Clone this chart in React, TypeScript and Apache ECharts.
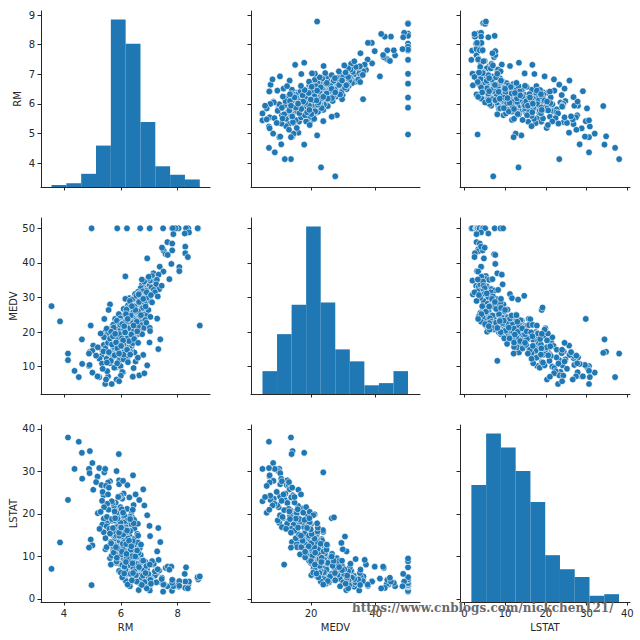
import { useEffect, useRef } from 'react';
import * as echarts from 'echarts';

// ---- data (one entry per house) ----
const RM = [
  7.489, 7.802, 8.034, 7.016, 7.875, 7.923, 4.970, 8.375, 7.929, 6.683,
  7.831, 8.725, 8.704, 8.297, 5.875, 6.216, 8.40, 8.25, 7.85, 7.64,
  7.81, 7.49, 7.52, 7.58, 7.81, 8.27, 8.27, 8.36, 6.93, 7.65,
  7.45, 7.78, 8.06, 8.06, 7.37, 7.50, 7.15, 7.33, 6.16, 7.10,
  7.19, 7.00, 7.02, 6.95, 7.27, 7.71, 7.20, 6.85, 7.08, 6.78,
  7.25, 6.98, 7.35, 6.90, 6.75, 6.82, 7.44, 6.70, 7.16, 6.60,
  6.43, 6.80, 6.58, 6.97, 6.70, 6.45, 6.88, 6.50, 6.30, 6.40,
  6.55, 7.05, 6.72, 6.62, 6.90, 7.20, 6.35, 6.52, 7.30, 6.78,
  6.25, 5.62, 6.16, 6.65, 7.10, 3.56, 3.86, 5.42, 5.57, 6.40,
  6.58, 6.42, 6.31, 6.17, 6.21, 5.97, 6.06, 6.49, 6.73, 6.38,
  6.84, 6.27, 6.65, 6.12, 6.45, 6.92, 6.36, 6.55, 5.89, 6.24,
  6.78, 6.03, 6.61, 6.14, 6.48, 5.80, 6.33, 6.70, 6.97, 6.22,
  6.40, 5.93, 6.68, 6.10, 6.52, 7.04, 6.28, 6.86, 5.98, 6.44,
  8.78, 4.94, 6.01, 6.42, 5.95, 6.10, 5.83, 5.94, 5.46, 5.73,
  5.97, 6.49, 6.67, 5.93, 5.84, 5.85, 6.07, 5.68, 5.79, 5.60,
  5.96, 6.23, 6.12, 6.33, 6.26, 6.19, 6.38, 6.05, 6.55, 6.31,
  6.16, 6.00, 5.88, 6.44, 6.22, 5.71, 6.09, 6.35, 6.62, 5.99,
  6.14, 6.28, 5.90, 6.48, 6.04, 6.71, 5.77, 6.20, 6.41, 5.85,
  6.13, 6.57, 6.02, 6.37, 5.65, 6.25, 6.82, 5.52, 6.18, 6.46,
  5.81, 6.07, 6.30, 6.90, 5.40, 6.11, 6.53, 5.91, 6.34, 6.75,
  6.00, 5.74, 6.24, 6.60, 6.06, 5.50, 6.39, 5.96, 6.15, 7.02,
  6.27, 7.28, 7.03, 4.63, 4.91, 5.93, 5.03, 7.32, 7.39, 7.01,
  5.00, 6.38, 5.85, 5.76, 5.82, 6.00, 6.05, 5.81, 5.92, 5.81,
  6.17, 6.38, 5.89, 6.48, 5.40, 6.31, 6.13, 5.35, 6.07, 6.13,
  5.85, 6.24, 5.73, 6.42, 6.02, 5.65, 6.19, 5.99, 6.33, 5.46,
  6.02, 5.89, 6.21, 5.76, 4.14, 4.88, 5.85, 4.90, 4.64, 5.94,
  5.94, 5.62, 6.23, 5.32, 6.79, 4.14, 5.57, 5.71, 5.91, 6.22,
  5.39, 5.94, 6.10, 6.30, 5.99, 6.52, 5.70, 6.10, 5.50, 6.25,
  5.99, 6.60, 5.77, 5.87, 5.65, 4.88, 6.93, 5.60, 4.52, 5.00,
  4.37, 5.24, 5.45, 5.18, 6.43, 6.08, 5.55, 5.48, 5.68, 6.05,
  6.45, 6.65, 5.52, 6.00, 6.83, 5.85, 5.94, 6.42,
  5.19, 5.25, 5.34, 5.41, 5.36, 5.55, 5.13, 5.51, 5.29, 5.58,
  5.62, 5.75, 5.69, 5.86, 5.78, 5.95, 5.91, 5.66, 5.83, 5.98,
  6.04, 6.18, 6.09, 6.26, 6.35, 6.12, 6.29, 6.20, 6.37, 6.03,
  6.43, 6.51, 6.58, 6.64, 6.47, 6.71, 6.56, 6.79, 6.61, 6.87,
  6.32, 6.18, 6.05, 6.63, 6.91, 6.24, 6.39, 6.12, 6.74, 7.06,
  6.15, 5.88, 6.22, 5.72, 6.45, 5.94, 6.08, 5.80, 6.33, 6.01,
];
const MEDV = [
  50, 50, 50, 50, 50, 50, 50, 50, 50, 50,
  50, 50, 50, 50, 50, 50, 48.8, 48.5, 48.3, 46.0,
  45.6, 43.9, 43.4, 42.5, 43.6, 44.7, 42.8, 41.7, 41.3, 42.3,
  44.4, 39.7, 38.8, 37.6, 38.9, 37.5, 37.0, 36.6, 36.1, 36.2,
  34.7, 33.4, 34.9, 35.4, 35.1, 35.3, 33.2, 32.5, 32.9, 33.1,
  33.8, 36.0, 32.4, 32.0, 33.8, 34.6, 33.4, 32.7, 32.2, 31.6,
  28.7, 30.8, 29.1, 31.1, 30.1, 29.6, 28.4, 31.0, 29.8, 29.4,
  30.5, 29.0, 28.0, 27.9, 29.9, 31.5, 28.2, 27.6, 30.3, 31.8,
  27.7, 28.0, 29.6, 31.2, 28.6, 27.5, 23.1, 23.8, 26.4, 27.1,
  24.0, 23.6, 24.4, 25.3, 24.7, 24.7, 23.4, 25.0, 26.6, 23.2,
  25.1, 26.2, 23.9, 24.1, 26.6, 24.8, 23.0, 25.8, 23.6, 24.3,
  27.0, 23.3, 26.0, 25.0, 27.4, 23.8, 25.5, 23.1, 26.4, 23.7,
  24.5, 25.2, 24.6, 26.7, 23.4, 24.4, 27.0, 23.5, 24.0, 25.9,
  21.9, 21.9, 22.9, 21.6, 20.4, 18.9, 19.9, 23.0, 20.2, 18.7,
  19.6, 18.6, 21.0, 18.9, 20.0, 21.0, 21.2, 19.3, 20.0, 19.4,
  22.0, 20.6, 19.2, 22.6, 21.7, 20.3, 19.8, 21.4, 22.2, 18.8,
  22.4, 19.1, 21.5, 20.8, 22.8, 21.8, 20.0, 21.1, 19.5, 22.3,
  18.6, 20.1, 19.0, 21.4, 20.5, 22.0, 20.6, 19.4, 22.9, 18.7,
  21.7, 20.3, 18.9, 19.9, 20.8, 22.1, 21.2, 19.6, 21.9, 19.2,
  22.5, 19.8, 20.9, 22.7, 18.9, 22.6, 20.1, 21.1, 18.5, 19.4,
  20.7, 22.2, 19.6, 21.6, 22.0, 21.0, 20.4, 18.6, 20.0, 21.2,
  23.0, 23.9, 20.3, 17.9, 14.3, 14.0, 16.1, 15.1, 17.9, 17.0,
  14.6, 15.0, 17.2, 16.0, 14.9, 15.2, 14.8, 14.5, 15.6, 16.6,
  17.8, 16.1, 17.4, 14.1, 16.3, 15.4, 16.7, 14.6, 14.5, 17.1,
  16.2, 18.4, 15.0, 16.8, 17.5, 14.1, 15.6, 18.0, 14.3, 15.3,
  16.6, 17.8, 18.2, 15.7, 13.8, 10.2, 9.9, 10.5, 10.8, 12.7,
  10.5, 11.0, 12.5, 13.1, 13.4, 11.9, 13.6, 12.7, 10.4, 13.1,
  14.4, 11.7, 12.1, 13.9, 10.0, 11.5, 13.1, 13.5, 12.3, 11.3,
  10.2, 12.6, 9.7, 11.0, 11.7, 13.8, 10.4, 13.9, 7.0, 8.3,
  8.8, 7.0, 5.0, 7.2, 7.2, 8.4, 7.2, 6.3, 5.0, 8.5,
  9.6, 7.5, 8.7, 7.4, 8.1, 6.3, 5.8, 7.1,
  15.6, 12.3, 10.9, 18.5, 9.4, 16.9, 13.2, 11.2, 19.6, 14.2,
  18.1, 21.3, 16.4, 23.3, 13.3, 19.4, 14.9, 20.1, 17.0, 22.1,
  18.2, 23.2, 16.3, 21.1, 24.8, 20.7, 17.4, 26.5, 19.3, 15.9,
  22.6, 26.4, 20.2, 28.7, 18.0, 24.9, 23.0, 29.6, 16.9, 27.4,
  29.0, 25.2, 22.3, 30.9, 31.5, 23.8, 27.5, 21.7, 35.2, 30.7,
  19.9, 15.3, 14.9, 18.8, 21.9, 13.8, 17.6, 19.5, 13.5, 16.0,
];
const LSTAT = [
  1.73, 1.92, 2.88, 2.96, 2.97, 3.16, 3.26, 3.32, 3.70, 3.73,
  4.45, 4.63, 5.12, 7.44, 8.88, 9.53, 4.1, 5.9, 3.0, 3.0,
  3.8, 3.4, 3.5, 7.3, 4.5, 4.1, 2.6, 2.5, 4.8, 7.6,
  5.0, 7.6, 4.2, 3.1, 4.1, 3.4, 8.1, 9.2, 4.6, 5.3,
  4.0, 2.9, 2.0, 5.1, 6.1, 6.9, 5.5, 6.4, 4.7, 3.5,
  3.9, 4.2, 6.7, 7.4, 9.4, 4.6, 4.7, 5.0, 8.3, 4.3,
  5.2, 4.3, 6.9, 5.0, 5.9, 7.8, 6.2, 11.2, 11.7, 13.2,
  14.7, 4.7, 7.1, 8.0, 3.9, 6.5, 5.7, 9.5, 7.0, 3.2,
  6.4, 9.6, 6.8, 5.5, 8.9, 7.1, 13.3, 29.8, 19.0, 19.2,
  5.0, 9.1, 7.5, 5.8, 7.4, 10.1, 12.0, 6.4, 4.8, 8.1,
  4.0, 6.0, 7.2, 9.3, 4.6, 6.9, 11.2, 8.4, 13.4, 10.7,
  5.5, 14.1, 9.8, 12.6, 7.0, 15.8, 3.9, 10.4, 5.9, 16.2,
  12.1, 8.5, 3.6, 7.8, 13.8, 4.5, 9.0, 8.8, 6.3, 5.3,
  5.3, 14.0, 12.4, 9.1, 8.3, 10.3, 8.5, 6.6, 11.7, 11.3,
  13.8, 12.8, 12.0, 9.7, 11.4, 8.8, 9.6, 10.2, 14.2, 16.2,
  13.5, 10.5, 15.0, 7.9, 11.0, 12.9, 13.6, 8.0, 9.9, 14.8,
  6.9, 16.9, 12.3, 7.2, 10.0, 15.1, 17.6, 5.9, 10.8, 11.9,
  13.1, 9.2, 18.4, 6.5, 14.4, 8.6, 12.7, 11.5, 8.4, 17.0,
  7.6, 11.4, 19.5, 16.3, 13.0, 12.5, 6.8, 17.9, 15.5, 14.1,
  10.6, 12.0, 13.9, 7.8, 15.7, 9.4, 5.6, 19.9, 17.4, 9.0,
  6.2, 11.8, 18.1, 13.3, 15.9, 12.2, 10.1, 14.6, 8.9, 8.1,
  13.0, 11.2, 14.8, 34.4, 34.8, 34.1, 25.7, 16.7, 13.4, 17.2,
  12.6, 20.5, 21.3, 21.9, 22.7, 18.7, 17.3, 19.9, 16.3, 14.8,
  16.9, 17.6, 18.1, 16.6, 18.9, 19.4, 18.3, 17.5, 13.0, 14.2,
  15.0, 12.8, 15.9, 13.6, 14.7, 13.4, 12.9, 15.6, 16.0, 14.3,
  10.5, 11.9, 9.8, 12.2, 38.0, 30.6, 30.1, 29.6, 28.3, 27.9,
  27.0, 27.7, 26.8, 26.8, 25.8, 23.3, 21.0, 22.6, 24.1, 21.2,
  24.4, 20.9, 24.8, 23.9, 21.6, 24.6, 18.4, 19.5, 17.1, 19.0,
  17.9, 17.7, 18.5, 16.9, 8.1, 12.1, 19.7, 16.5, 37.0, 32.0,
  30.6, 30.8, 30.6, 28.8, 29.1, 27.8, 27.4, 26.6, 23.0, 23.6,
  22.1, 23.3, 22.4, 24.3, 22.0, 20.3, 24.0, 21.0,
  20.2, 16.5, 23.1, 21.6, 25.2, 24.6, 27.5, 19.3, 20.5, 26.2,
  15.4, 10.9, 18.8, 9.7, 20.6, 14.9, 24.0, 13.1, 12.2, 16.8,
  11.1, 8.7, 15.2, 14.2, 11.6, 19.7, 13.7, 10.6, 12.4, 21.1,
  6.1, 10.0, 15.3, 7.5, 18.6, 12.8, 4.1, 9.0, 14.9, 6.1,
  3.0, 4.2, 5.1, 2.1, 2.5, 3.4, 4.4, 6.0, 3.3, 3.6,
  16.4, 18.9, 16.1, 16.7, 17.8, 15.6, 20.3, 19.0, 18.8, 16.8,
];

// ---- histogram bins (edges) and counts ----
const RM_EDGES = [3.561, 4.083, 4.605, 5.127, 5.649, 6.170, 6.692, 7.214, 7.736, 8.258, 8.780];
const RM_COUNTS = [2, 4, 14, 44, 178, 152, 69, 22, 13, 8];
const MEDV_EDGES = [5, 9.5, 14, 18.5, 23, 27.5, 32, 36.5, 41, 45.5, 50];
const MEDV_COUNTS = [21, 55, 82, 154, 84, 41, 30, 8, 10, 21];
const LSTAT_EDGES = [1.73, 5.354, 8.978, 12.602, 16.226, 19.85, 23.474, 27.098, 30.722, 34.346, 37.97];
const LSTAT_COUNTS = [75, 108, 99, 84, 64, 30, 21, 16, 4, 5];

// ---- axes ----
const VARS = ['RM', 'MEDV', 'LSTAT'];
const X_TICKS = [[4, 6, 8], [20, 40], [0, 10, 20, 30, 40]];
const Y_TICKS = [[4, 5, 6, 7, 8, 9], [10, 20, 30, 40, 50], [0, 10, 20, 30, 40]];
const X_RANGE = [[3.19, 9.14], [1.45, 53.7], [-1.06, 40.66]];
const Y_RANGE = [[3.2, 9.135], [2.11, 52.98], [-0.71, 40.94]];

// ---- layout ----
const LEFTS = [41, 251, 460];
const WIDTHS = [169, 169, 170];
const TOPS = [11, 218, 425];
const HEIGHTS = [176, 176, 177];
const Y_NAME_GAP = [19, 23, 23];

const BLUE = '#1f77b4';
const INK = '#262626';
const FONT = 'DejaVu Sans';

export default function App() {
  const ref = useRef<HTMLDivElement>(null);
  useEffect(() => {
    if (!ref.current) return;
    const chart = echarts.init(ref.current, null, { renderer: 'svg' });
    const cols = [RM, MEDV, LSTAT];
    const n = Math.min(RM.length, MEDV.length, LSTAT.length);
    const hists = [
      { edges: RM_EDGES, counts: RM_COUNTS },
      { edges: MEDV_EDGES, counts: MEDV_COUNTS },
      { edges: LSTAT_EDGES, counts: LSTAT_COUNTS },
    ];

    const grid: any[] = [];
    const xAxis: any[] = [];
    const yAxis: any[] = [];
    const series: any[] = [];

    for (let r = 0; r < 3; r++) {
      for (let c = 0; c < 3; c++) {
        const g = r * 3 + c;
        grid.push({ left: LEFTS[c], top: TOPS[r], width: WIDTHS[c], height: HEIGHTS[r], containLabel: false });
        xAxis.push({
          type: 'value',
          gridIndex: g,
          min: X_RANGE[c][0],
          max: X_RANGE[c][1],
          axisLine: { show: true, onZero: false, lineStyle: { color: INK, width: 1 } },
          axisTick: { show: true, inside: false, length: 3.5, customValues: X_TICKS[c], lineStyle: { color: INK, width: 1 } },
          axisLabel: { show: r === 2, customValues: X_TICKS[c], fontSize: 10, color: INK, fontFamily: FONT, margin: 6 },
          splitLine: { show: false },
          name: r === 2 ? VARS[c] : '',
          nameLocation: 'middle',
          nameGap: 20,
          nameTextStyle: { fontSize: 10, color: INK, fontFamily: FONT },
        });
        yAxis.push({
          type: 'value',
          gridIndex: g,
          min: Y_RANGE[r][0],
          max: Y_RANGE[r][1],
          axisLine: { show: true, onZero: false, lineStyle: { color: INK, width: 1 } },
          axisTick: { show: true, inside: false, length: 3.5, customValues: Y_TICKS[r], lineStyle: { color: INK, width: 1 } },
          axisLabel: { show: c === 0, customValues: Y_TICKS[r], fontSize: 10, color: INK, fontFamily: FONT, margin: 6 },
          splitLine: { show: false },
          name: c === 0 ? VARS[r] : '',
          nameLocation: 'middle',
          nameRotate: 90,
          nameGap: Y_NAME_GAP[r],
          nameTextStyle: { fontSize: 10, color: INK, fontFamily: FONT },
        });
        if (r !== c) {
          const data: number[][] = [];
          for (let i = 0; i < n; i++) data.push([cols[c][i], cols[r][i]]);
          series.push({
            type: 'scatter',
            xAxisIndex: g,
            yAxisIndex: g,
            data,
            symbol: 'circle',
            symbolSize: 6.6,
            itemStyle: { color: BLUE, borderColor: '#ffffff', borderWidth: 0.6, opacity: 1 },
            silent: true,
          });
        }
      }
    }

    // hidden count axes for the diagonal histograms
    for (let k = 0; k < 3; k++) {
      const g = k * 3 + k;
      const maxCount = Math.max(...hists[k].counts);
      yAxis.push({ type: 'value', gridIndex: g, min: 0, max: maxCount * 1.05, show: false, splitLine: { show: false } });
      const { edges, counts } = hists[k];
      const data = counts.map((cnt, i) => [edges[i], edges[i + 1], cnt]);
      series.push({
        type: 'custom',
        xAxisIndex: g,
        yAxisIndex: 9 + k,
        data,
        encode: { x: [0, 1], y: 2 },
        silent: true,
        renderItem: (_params: any, api: any) => {
          const p0 = api.coord([api.value(0), api.value(2)]);
          const p1 = api.coord([api.value(1), 0]);
          return {
            type: 'rect',
            shape: { x: p0[0], y: p0[1], width: p1[0] - p0[0], height: p1[1] - p0[1] },
            style: { fill: BLUE, stroke: null },
          };
        },
      });
    }

    chart.setOption({
      animation: false,
      backgroundColor: '#ffffff',
      grid,
      xAxis,
      yAxis,
      series,
      graphic: [
        {
          type: 'text',
          left: 352,
          top: 602,
          z: 100,
          style: {
            text: 'https://www.cnblogs.com/nickchen121/',
            fontSize: 12,
            fontWeight: 'bold',
            fontFamily: 'DejaVu Serif',
            fill: '#6a6a6a',
          },
        },
      ],
    });
    return () => chart.dispose();
  }, []);
  return <div ref={ref} style={{ position: 'absolute', left: 0, top: 0, width: 640, height: 640 }} />;
}
